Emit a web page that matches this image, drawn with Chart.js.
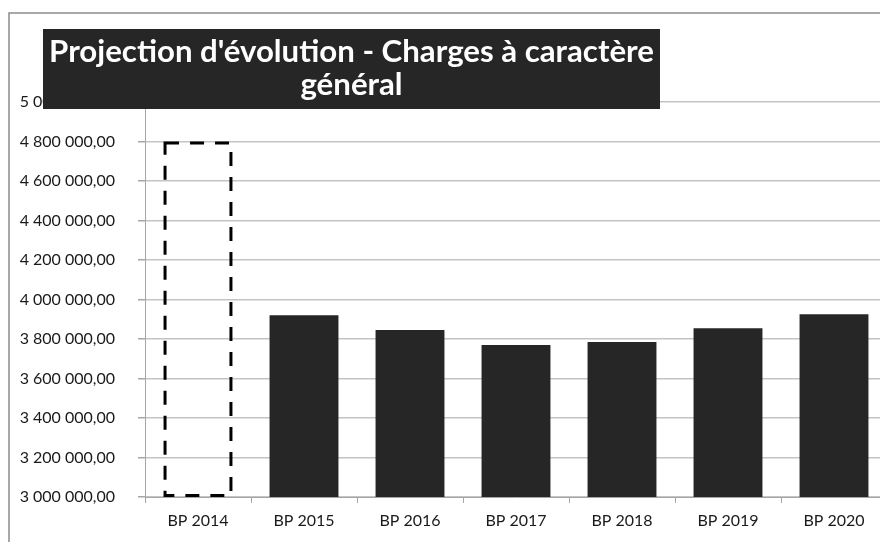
<!DOCTYPE html>
<html lang="fr">
<head>
<meta charset="utf-8">
<title>Projection d'évolution - Charges à caractère général</title>
<script src="https://cdn.jsdelivr.net/npm/chart.js@4/dist/chart.umd.min.js"></script>
<style>
    html, body { margin: 0; padding: 0; background: #fff; overflow: hidden; }
    canvas { display: block; }
</style>
</head>
<body>
<canvas id="chart" width="890" height="542"></canvas>
<script>
// données
const categories = ["BP 2014", "BP 2015", "BP 2016", "BP 2017", "BP 2018", "BP 2019", "BP 2020"];
const values = [4800000, 3920000, 3845000, 3770000, 3785000, 3855000, 3925000];
const titleLines = ["Projection d'évolution - Charges à caractère", "général"];
const yMin = 3000000;
const yMax = 5000000;
const yStep = 200000;

/** 4800000 -> "4 800 000,00" */
function formatFr(v) {
    const parts = Number(v).toFixed(2).split(".");
    return parts[0].replace(/\B(?=(\d{3})+(?!\d))/g, " ") + "," + parts[1];
}

/** cadre gris autour du graphique */
const framePlugin = {
    id: "frame",
    beforeDraw(chart) {
        const ctx = chart.ctx;
        ctx.save();
        ctx.fillStyle = "#fff";
        ctx.fillRect(0, 0, chart.width, chart.height);
        ctx.strokeStyle = "#8c8c8c";
        ctx.lineWidth = 1.5;
        ctx.strokeRect(9, 13, 1200, 1200);
        ctx.restore();
    }
};

/** BP 2014 : barre en pointillés (pas de remplissage) */
const dashedBarPlugin = {
    id: "dashedBar",
    afterDatasetsDraw(chart) {
        const bar = chart.getDatasetMeta(0).data[0];
        if (!bar) return;
        const { x, y, width } = bar.getProps(["x", "y", "width"], true);
        const base = chart.scales.y.getPixelForValue(yMin); // la barre s'arrête à l'axe
        const ctx = chart.ctx;
        const lw = 3;
        ctx.save();
        ctx.strokeStyle = "#000";
        ctx.lineWidth = lw;
        ctx.setLineDash([14, 11]);
        ctx.strokeRect(x - width / 2 + lw / 2, y + lw / 2, width - lw, base - y - lw);
        ctx.restore();
    }
};

/** titre dans un bandeau noir, par-dessus le graphique */
const titleBoxPlugin = {
    id: "titleBox",
    afterDraw(chart) {
        const ctx = chart.ctx;
        const box = { left: 43, top: 29, width: 617, height: 80 };
        ctx.save();
        ctx.fillStyle = "#262626";
        ctx.fillRect(box.left, box.top, box.width, box.height);
        ctx.font = "bold 28px Lato";
        const w = ctx.measureText(titleLines[0]).width;
        const size = 28 * 605 / w;
        ctx.font = "bold " + size.toFixed(2) + "px Lato";
        ctx.fillStyle = "#fff";
        ctx.textAlign = "center";
        ctx.textBaseline = "alphabetic";
        const cx = box.left + box.width / 2;
        ctx.fillText(titleLines[0], cx, 62);
        ctx.fillText(titleLines[1], cx, 95);
        ctx.restore();
    }
};

const ctx = document.getElementById("chart").getContext("2d");

new Chart(ctx, {
    type: "bar",
    data: {
        labels: categories,
        datasets: [{
            label: "Charges à caractère général",
            data: values,
            backgroundColor: values.map((v, i) => i === 0 ? "rgba(0,0,0,0)" : "#262626"),
            borderWidth: 0,
            categoryPercentage: 1,
            barPercentage: 0.65
        }]
    },
    options: {
        responsive: false,
        animation: false,
        devicePixelRatio: 1,
        layout: { padding: { top: 102, right: 3, left: 0, bottom: 0 } },
        plugins: {
            legend: { display: false },
            title: { display: false },
            tooltip: { enabled: false }
        },
        scales: {
            x: {
                grid: {
                    offset: true,
                    drawOnChartArea: false,
                    drawTicks: true,
                    tickLength: 6,
                    color: "#a6a6a6"
                },
                border: { display: true, color: "#a6a6a6", width: 1 },
                ticks: {
                    color: "#1a1a1a",
                    padding: 8,
                    maxRotation: 0,
                    font: { family: "Lato", size: 16 }
                },
                afterFit(scale) { scale.height = 45; }
            },
            y: {
                min: yMin,
                max: yMax,
                grid: {
                    color: "#c4c4c4",
                    lineWidth: 1.5,
                    drawTicks: true,
                    tickLength: 7,
                    tickColor: "#a6a6a6"
                },
                border: { display: true, color: "#a6a6a6", width: 1 },
                ticks: {
                    stepSize: yStep,
                    color: "#1a1a1a",
                    padding: 23,
                    font: { family: "Lato", size: 16 },
                    callback: (v) => formatFr(v)
                },
                afterFit(scale) { scale.width = 145; }
            }
        }
    },
    plugins: [framePlugin, dashedBarPlugin, titleBoxPlugin]
});
</script>
</body>
</html>
